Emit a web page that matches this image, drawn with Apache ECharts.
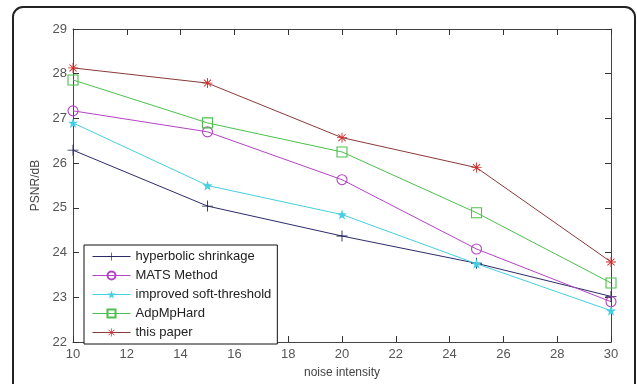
<!DOCTYPE html>
<html>
<head>
<meta charset="utf-8">
<script src="https://cdn.jsdelivr.net/npm/echarts@6/dist/echarts.min.js"></script>
<style>
  html, body { margin: 0; padding: 0; background: #fff; }
  #chart { width: 637px; height: 384px; }
</style>
</head>
<body>
<div id="chart"></div>
<script>
const noise = [10, 15, 20, 25, 30]
const hyperbolic = [26.29, 25.04, 24.37, 23.76, 23.02]
const mats = [27.17, 26.70, 25.63, 24.08, 22.90]
const improvedSoft = [26.90, 25.50, 24.85, 23.75, 22.70]
const adpMpHard = [27.86, 26.90, 26.25, 24.89, 23.32]
const thisPaper = [28.13, 27.79, 26.57, 25.90, 23.79]

const font = 'Liberation Sans'

const plusPath = 'path://M-0.08,-1H0.08V-0.08H1V0.08H0.08V1H-0.08V0.08H-1V-0.08H-0.08Z'
const starPath = 'path://M0,-1L0.235,-0.324L0.951,-0.309L0.38,0.124L0.588,0.809L0,0.4L-0.588,0.809L-0.38,0.124L-0.951,-0.309L-0.235,-0.324Z'
const asteriskPath = 'path://M-0.09,-1H0.09V-0.2L0.65,-0.75L0.78,-0.62L0.2,-0.09H1V0.09H0.2L0.78,0.62L0.65,0.75L0.09,0.2V1H-0.09V0.2L-0.65,0.75L-0.78,0.62L-0.2,0.09H-1V-0.09H-0.2L-0.78,-0.62L-0.65,-0.75L-0.09,-0.2Z'

function pairs(vals) {
  return noise.map((x, i) => [x, vals[i]])
}

function line(name, vals, lineColor, markColor, symbol, size, hollow) {
  return {
    name: name,
    type: 'line',
    data: pairs(vals),
    symbol: symbol,
    symbolSize: size,
    showAllSymbol: true,
    lineStyle: { color: lineColor, width: 1 },
    itemStyle: hollow
      ? { color: 'rgba(255,255,255,0)', borderColor: markColor, borderWidth: 1.1 }
      : { color: markColor, borderWidth: 0 },
    emphasis: { disabled: true },
  }
}

// fresh objects for each axis
function axisLine() {
  return { show: true, onZero: false, lineStyle: { color: '#444', width: 1 } }
}
function tick() {
  return { show: true, inside: true, length: 6, lineStyle: { color: '#333', width: 1 } }
}

const chart = echarts.init(document.getElementById('chart'))

const option = {
  backgroundColor: '#fff',
  animation: false,
  textStyle: { fontFamily: font },
  grid: { left: 73, top: 29, right: 26, bottom: 34 },
  graphic: [
    {
      type: 'rect',
      shape: { x: 13, y: 7, width: 622, height: 420, r: 10 },
      style: { fill: 'none', stroke: '#222', lineWidth: 2 },
      silent: true,
    },
  ],
  legend: {
    left: 84,
    top: 245,
    orient: 'vertical',
    padding: [5, 6, 5, 8],
    itemGap: 6,
    itemWidth: 38,
    itemHeight: 10,
    backgroundColor: '#fff',
    borderColor: '#111',
    borderWidth: 1,
    borderRadius: 0,
    lineStyle: { width: 1 },
    textStyle: { fontFamily: font, fontSize: 13, color: '#222' },
    data: ['hyperbolic shrinkage', 'MATS Method', 'improved soft-threshold', 'AdpMpHard', 'this paper'],
  },
  xAxis: [
    {
      type: 'value',
      min: 10,
      max: 30,
      interval: 2,
      name: 'noise intensity',
      nameLocation: 'middle',
      nameGap: 25,
      nameTextStyle: { fontFamily: font, fontSize: 12, color: '#444' },
      axisLine: axisLine(),
      axisTick: tick(),
      axisLabel: { fontFamily: font, fontSize: 13, color: '#555', margin: 6 },
      splitLine: { show: false },
    },
    {
      type: 'value',
      position: 'top',
      min: 10,
      max: 30,
      interval: 2,
      axisLine: axisLine(),
      axisTick: tick(),
      axisLabel: { show: false },
      splitLine: { show: false },
    },
  ],
  yAxis: [
    {
      type: 'value',
      min: 22,
      max: 29,
      interval: 1,
      name: 'PSNR/dB',
      nameLocation: 'middle',
      nameGap: 24,
      nameTextStyle: { fontFamily: font, fontSize: 12, color: '#444' },
      axisLine: axisLine(),
      axisTick: tick(),
      axisLabel: { fontFamily: font, fontSize: 13, color: '#555', margin: 6 },
      splitLine: { show: false },
    },
    {
      type: 'value',
      position: 'right',
      min: 22,
      max: 29,
      interval: 1,
      axisLine: axisLine(),
      axisTick: tick(),
      axisLabel: { show: false },
      splitLine: { show: false },
    },
  ],
  series: [
    line('hyperbolic shrinkage', hyperbolic, '#2b2b6b', '#20205a', plusPath, 11, false),
    line('MATS Method', mats, '#b344c4', '#b344c4', 'circle', 10, true),
    line('improved soft-threshold', improvedSoft, '#45cfe0', '#45cfe0', starPath, 10, false),
    line('AdpMpHard', adpMpHard, '#4cc04c', '#4cc04c', 'rect', 10, true),
    line('this paper', thisPaper, '#8a3a3a', '#d42a2a', asteriskPath, 10, false),
  ],
}

chart.setOption(option)

window.addEventListener('resize', () => {
  chart.resize()
})
</script>
</body>
</html>
